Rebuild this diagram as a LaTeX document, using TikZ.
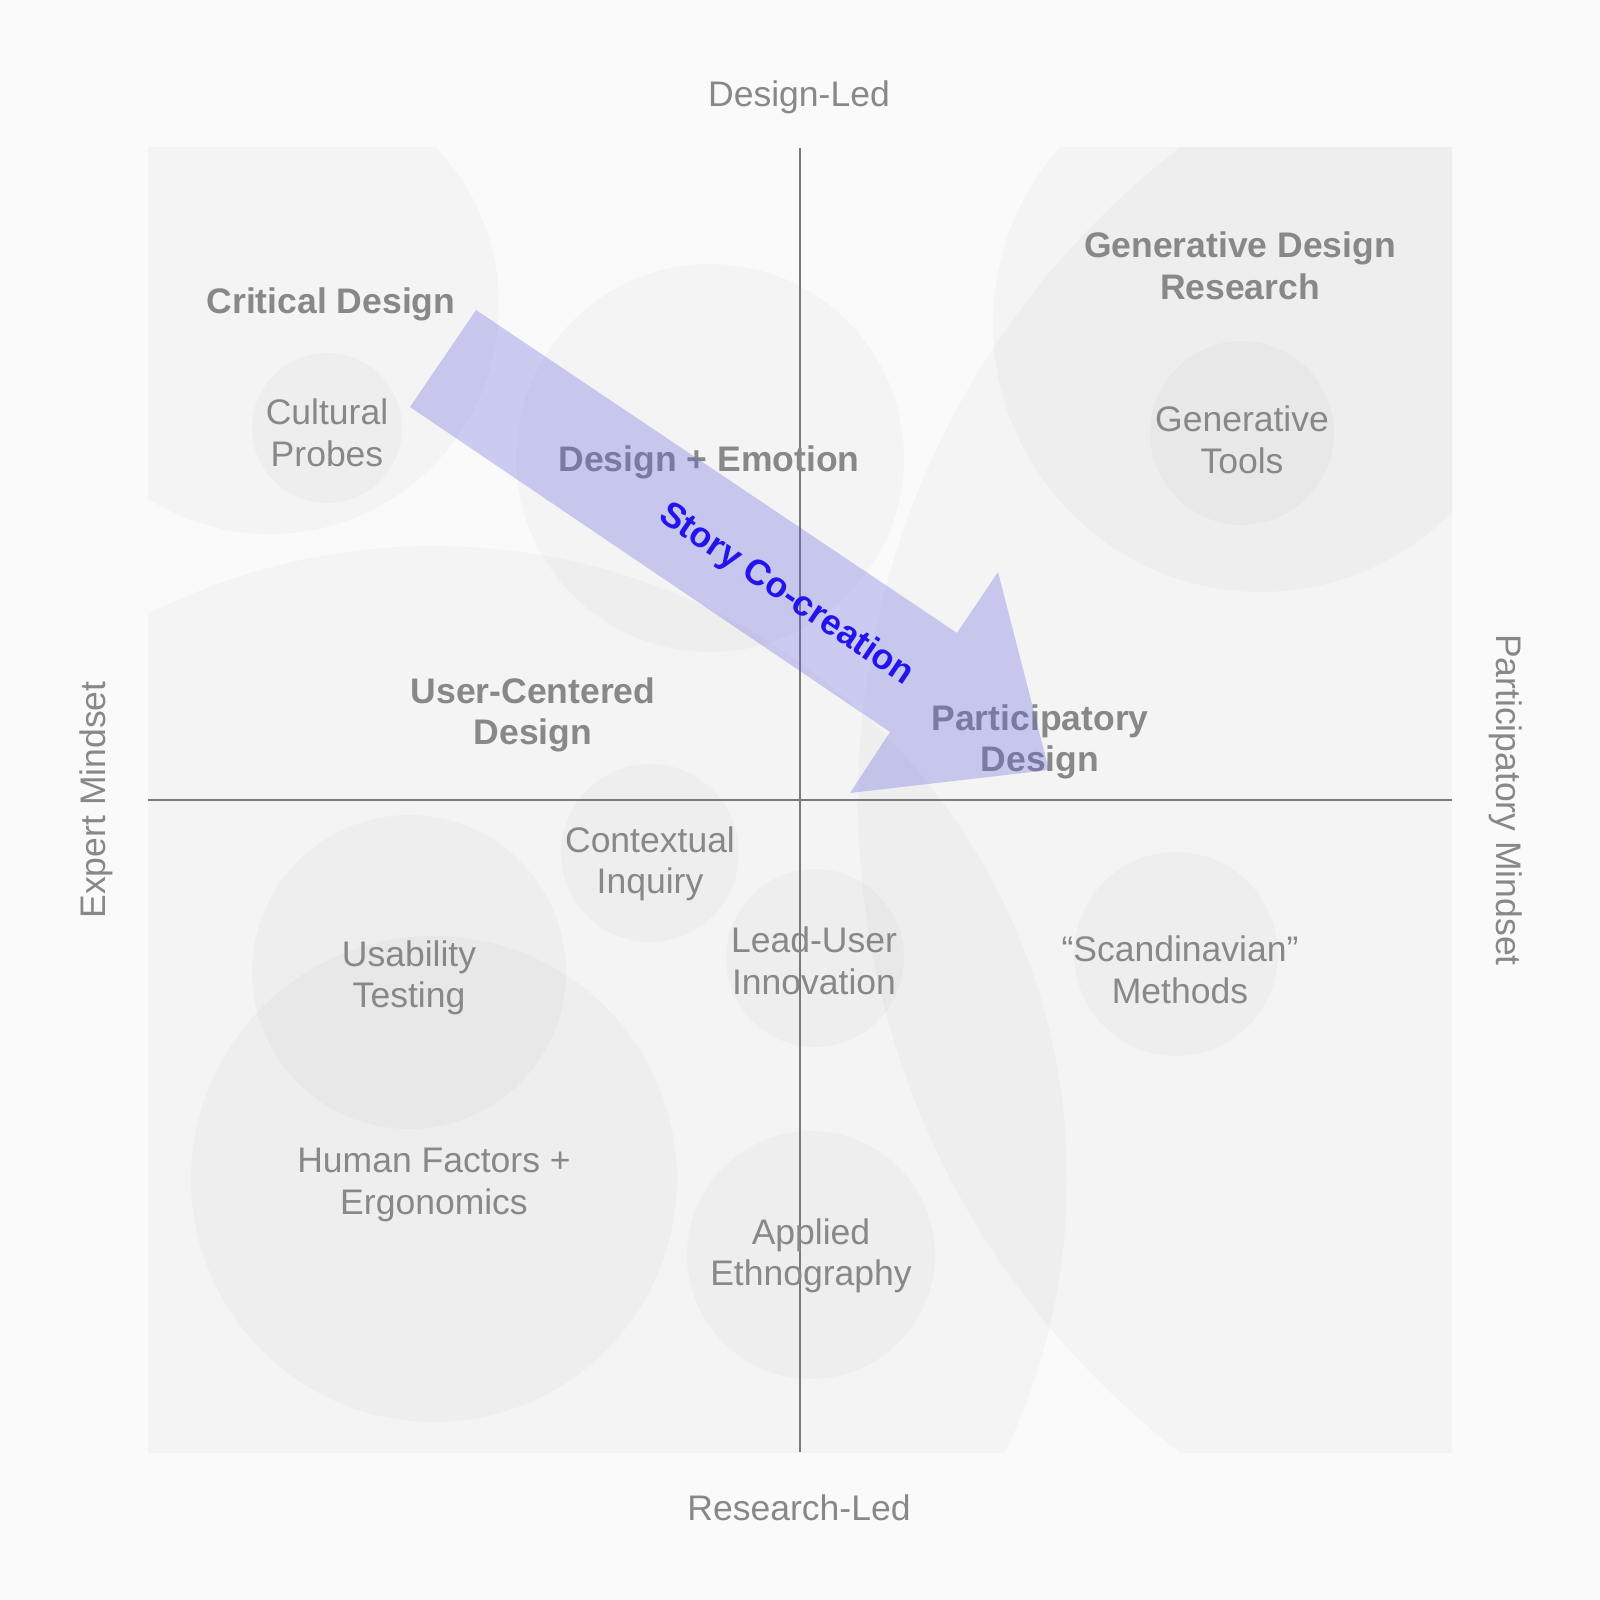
\documentclass[tikz,border=0pt]{standalone}
\usepackage{fontspec}
\setsansfont{Liberation Sans}
\usepackage{tikz}
\definecolor{mapbg}{HTML}{FAFAFA}
\definecolor{mapgrey}{HTML}{888888}
\definecolor{mapaxis}{HTML}{7A7A7A}
\definecolor{storyfill}{HTML}{6060E0}
\definecolor{storyblue}{HTML}{2314EE}

\begin{document}
\begin{tikzpicture}[x=0.01cm,y=-0.01cm,font=\sffamily\fontsize{10.1}{11.8}\selectfont,
  blob/.style={fill=black,fill opacity=0.024},
  lbl/.style={mapgrey,align=center},
  hdr/.style={lbl,font=\sffamily\bfseries\fontsize{10.1}{11.8}\selectfont}]
  \fill[mapbg] (0,0) rectangle (1600,1600);
  % clusters, clipped to the map
  \begin{scope}
    \clip (148,148) rectangle (1452,1452);
    \foreach \cx/\cy/\r in {270/305/229, 327/428/75, 710/458/194, 1261/324/268, 1242/433/92,
      1680/800/822, 434/1179/633, 434/1179/243, 409/972/157, 650/853/89,
      815/958/89, 811/1255/124, 1176/954/102}{
      \fill[blob] (\cx,\cy) circle (\r);}
  \end{scope}
  % axes
  \coordinate (ntop) at (800,148);
  \coordinate (nbot) at (800,1452);
  \coordinate (wleft) at (148,800);
  \coordinate (eright) at (1452,800);
  \draw[mapaxis,line width=0.45pt] (ntop) -- (nbot);
  \draw[mapaxis,line width=0.45pt] (wleft) -- (eright);
  \node[lbl] (designled) at (799,97) {Design-Led};
  \node[lbl] (researchled) at (799,1508) {Research-Led};
  \node[lbl,rotate=90] (expert) at (96,800) {Expert Mindset};
  \node[lbl,rotate=-90] (partmind) at (1506,800) {Participatory Mindset};
  % practices
  \node[hdr] (critical) at (331,304) {Critical Design};
  \node[lbl] (probes) at (327,433) {Cultural\\Probes};
  \node[hdr] (emotion) at (709,462) {Design + Emotion};
  \node[hdr] (gdr) at (1240,266) {Generative Design\\Research};
  \node[lbl] (gentools) at (1242,440) {Generative\\Tools};
  \node[hdr] (partdesign) at (1040,742) {Participatory\\Design};
  \node[hdr] (ucd) at (533,715) {User-Centered\\Design};
  \node[lbl] (context) at (650,864) {Contextual\\Inquiry};
  \node[lbl] (usability) at (409,978) {Usability\\Testing};
  \node[lbl] (leaduser) at (814,961) {Lead-User\\Innovation};
  \node[lbl] (scandi) at (1180,970) {“Scandinavian”\\Methods};
  \node[lbl] (hfe) at (434,1185) {Human Factors +\\Ergonomics};
  \node[lbl] (ethno) at (811,1256) {Applied\\Ethnography};
  % story arrow
  \coordinate (tailtop) at (476,310);
  \coordinate (neckup) at (957,633);
  \coordinate (barbup) at (998,572);
  \coordinate (tip) at (1049,770);
  \coordinate (barbdown) at (850,793);
  \coordinate (neckdown) at (890,732);
  \coordinate (tailbot) at (410,407);
  \fill[storyfill,fill opacity=0.3] (tailtop) -- (neckup) -- (barbup) -- (tip)
    -- (barbdown) -- (neckdown) -- (tailbot) -- cycle;
  \node[hdr,storyblue,rotate=-34] (story) at (786,595) {Story Co-creation};
\end{tikzpicture}
\end{document}
